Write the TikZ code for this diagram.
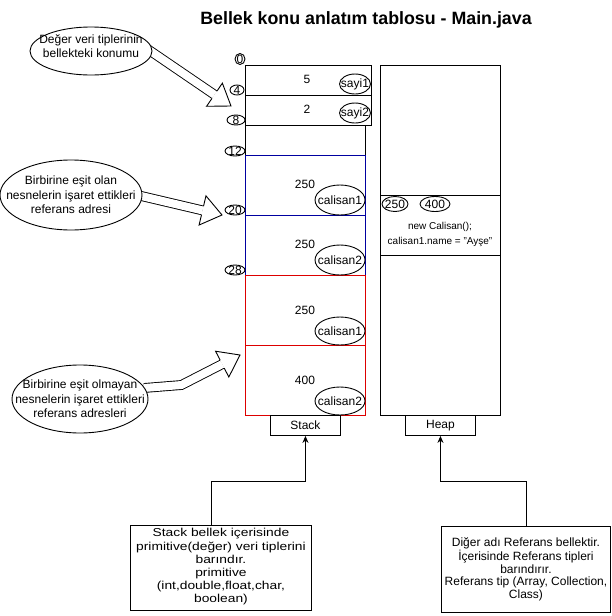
\documentclass[tikz,border=0pt]{standalone}
\usepackage{fontspec}
\setmainfont{Liberation Sans}
\newfontfamily\widefont[FakeStretch=1.2]{Liberation Sans}
\usetikzlibrary{arrows.meta,calc,shapes.geometric}
\definecolor{refblue}{HTML}{0000A0}
\definecolor{refred}{HTML}{DD0000}
\tikzset{
  cell/.style={draw=black,line width=0.9pt,inner sep=0pt,anchor=north west},
  bluecell/.style={cell,draw=refblue},
  redcell/.style={cell,draw=refred},
  oval/.style={draw=black,ellipse,fill=white,line width=0.9pt,inner sep=0pt},
  notetext/.style={align=center,font=\fontsize{12}{14.4}\selectfont},
  boxtext/.style={align=center,font=\fontsize{12}{12.8}\selectfont},
  flexshaft/.style={double=white,double distance=8pt,line width=0.9pt,line join=miter},
  flexhead/.style={fill=white,line width=0.9pt,line join=miter},
  conn/.style={-{Stealth[length=7pt,width=6pt]},line width=0.9pt}
}

\begin{document}
\begin{tikzpicture}[x=1pt,y=-1pt,font=\fontsize{12}{14.4}\selectfont]
\path[use as bounding box,fill=white] (0,0) rectangle (611,616);

\node[font=\fontsize{17.8}{21}\selectfont\bfseries] (title) at (366,20)
  {Bellek konu anlatım tablosu - Main.java};

% stack
\node[cell,minimum width=126,minimum height=30] (s1) at (245,65) {};
\node[cell,minimum width=126,minimum height=30] (s2) at (245,95) {};
\node[cell,minimum width=120,minimum height=30] (s3) at (245,125) {};
\node[bluecell,minimum width=120,minimum height=60] (r1) at (245,155) {};
\node[bluecell,minimum width=120,minimum height=60] (r2) at (245,215) {};
\node[redcell,minimum width=120,minimum height=70] (r3) at (245,275) {};
\node[redcell,minimum width=120,minimum height=70] (r4) at (245,345) {};
\node[cell,minimum width=70,minimum height=20] (stacklbl) at (270,415) {Stack};

\node (v1) at (307,79) {5};
\node (v2) at (307,109) {2};
\node (v3) at (305,184) {250};
\node (v4) at (305,244) {250};
\node (v5) at (305,310) {250};
\node (v6) at (305,380) {400};

\node[oval,minimum width=31,minimum height=20,label=center:sayi1] (sayi1) at (355,84) {};
\node[oval,minimum width=31,minimum height=20,label=center:sayi2] (sayi2) at (355,113) {};
\node[oval,minimum width=50,minimum height=30,label=center:calisan1] (cal1) at (340,200) {};
\node[oval,minimum width=50,minimum height=30,label=center:calisan2] (cal2) at (340,260) {};
\node[oval,minimum width=50,minimum height=28,label=center:calisan1] (cal3) at (340,331) {};
\node[oval,minimum width=50,minimum height=28,label=center:calisan2] (cal4) at (340,401) {};

% adresler
\node[oval,minimum width=10,minimum height=11,label=center:0] (a0) at (240,59) {};
\node[oval,minimum width=14,minimum height=10,label=center:4] (a4) at (237,90) {};
\node[oval,minimum width=18,minimum height=10,label=center:8] (a8) at (236,120) {};
\node[oval,minimum width=20,minimum height=10,label=center:12] (a12) at (235,151) {};
\node[oval,minimum width=20,minimum height=10,label=center:20] (a20) at (235,210) {};
\node[oval,minimum width=20,minimum height=10,label=center:28] (a28) at (235,270) {};

% heap
\node[cell,minimum width=120,minimum height=350] (heap) at (380,65) {};
\draw[line width=0.9pt] ([yshift=-130]heap.north west) -- ([yshift=-130]heap.north east);
\draw[line width=0.9pt] ([yshift=-190]heap.north west) -- ([yshift=-190]heap.north east);
\node[cell,minimum width=70,minimum height=20] (heaplbl) at (405,415) {Heap};
\node[oval,minimum width=26,minimum height=15,label=center:250] (h250) at (395,204) {};
\node[oval,minimum width=30,minimum height=15,label=center:400] (h400) at (435,204) {};
\node[align=center,font=\fontsize{10}{15}\selectfont] (code) at (440,234.5)
  {new Calisan();\\calisan1.name = "Ayşe"};

% ok oklar
\coordinate (f1) at (146,48);
\coordinate (t1) at (231,106);
\coordinate (h1) at ($(t1)!20pt!(f1)$);
\draw[flexshaft] (f1) -- (h1);
\draw[flexhead] ($(h1)!4.45pt!90:(t1)$) -- ($(h1)!14pt!90:(t1)$) -- (t1)
  -- ($(h1)!14pt!-90:(t1)$) -- ($(h1)!4.45pt!-90:(t1)$);

\coordinate (f2) at (137,195);
\coordinate (t2) at (222,215);
\coordinate (h2) at ($(t2)!20pt!(f2)$);
\draw[flexshaft] (f2) -- (h2);
\draw[flexhead] ($(h2)!4.45pt!90:(t2)$) -- ($(h2)!15pt!90:(t2)$) -- (t2)
  -- ($(h2)!15pt!-90:(t2)$) -- ($(h2)!4.45pt!-90:(t2)$);

\coordinate (f3) at (144,388);
\coordinate (k3) at (181.5,385);
\coordinate (t3) at (240,355);
\coordinate (h3) at ($(t3)!20pt!(k3)$);
\draw[flexshaft] (f3) -- (k3) -- (h3);
\draw[flexhead] ($(h3)!4.45pt!90:(t3)$) -- ($(h3)!14.5pt!90:(t3)$) -- (t3)
  -- ($(h3)!14.5pt!-90:(t3)$) -- ($(h3)!4.45pt!-90:(t3)$);

% notlar
\node[oval,minimum width=122,minimum height=48,
  label={[notetext,yshift=5]center:Değer veri tiplerinin\\bellekteki konumu}] (n1) at (91,51) {};
\node[oval,minimum width=142,minimum height=70,
  label={[notetext]center:Birbirine eşit olan\\nesnelerin işaret ettikleri\\referans adresi}] (n2) at (71,195) {};
\node[oval,minimum width=136,minimum height=68,
  label={[notetext]center:Birbirine eşit olmayan\\nesnelerin işaret ettikleri\\referans adresleri}] (n3) at (80,399) {};

\node[cell,minimum width=181,minimum height=85,
  label={[boxtext,font=\widefont\fontsize{11.5}{13.2}\selectfont,yshift=1]center:Stack bellek içerisinde\\primitive(değer) veri tiplerini\\barındır.\\primitive\\(int,double,float,char,\\boolean)}] (b1) at (130,525) {};
\node[cell,minimum width=169,minimum height=86,
  label={[boxtext]center:Diğer adı Referans bellektir.\\İçerisinde Referans tipleri\\barındırır.\\Referans tip (Array, Collection,\\Class)}] (b2) at (441,526) {};

\coordinate (b1top) at ([xshift=-9.6]b1.north);
\draw[conn] (b1top) -- ++(0,-44) -| (stacklbl.south);
\draw[conn] (b2.north) -- ++(0,-45) -| (heaplbl.south);
\end{tikzpicture}
\end{document}
